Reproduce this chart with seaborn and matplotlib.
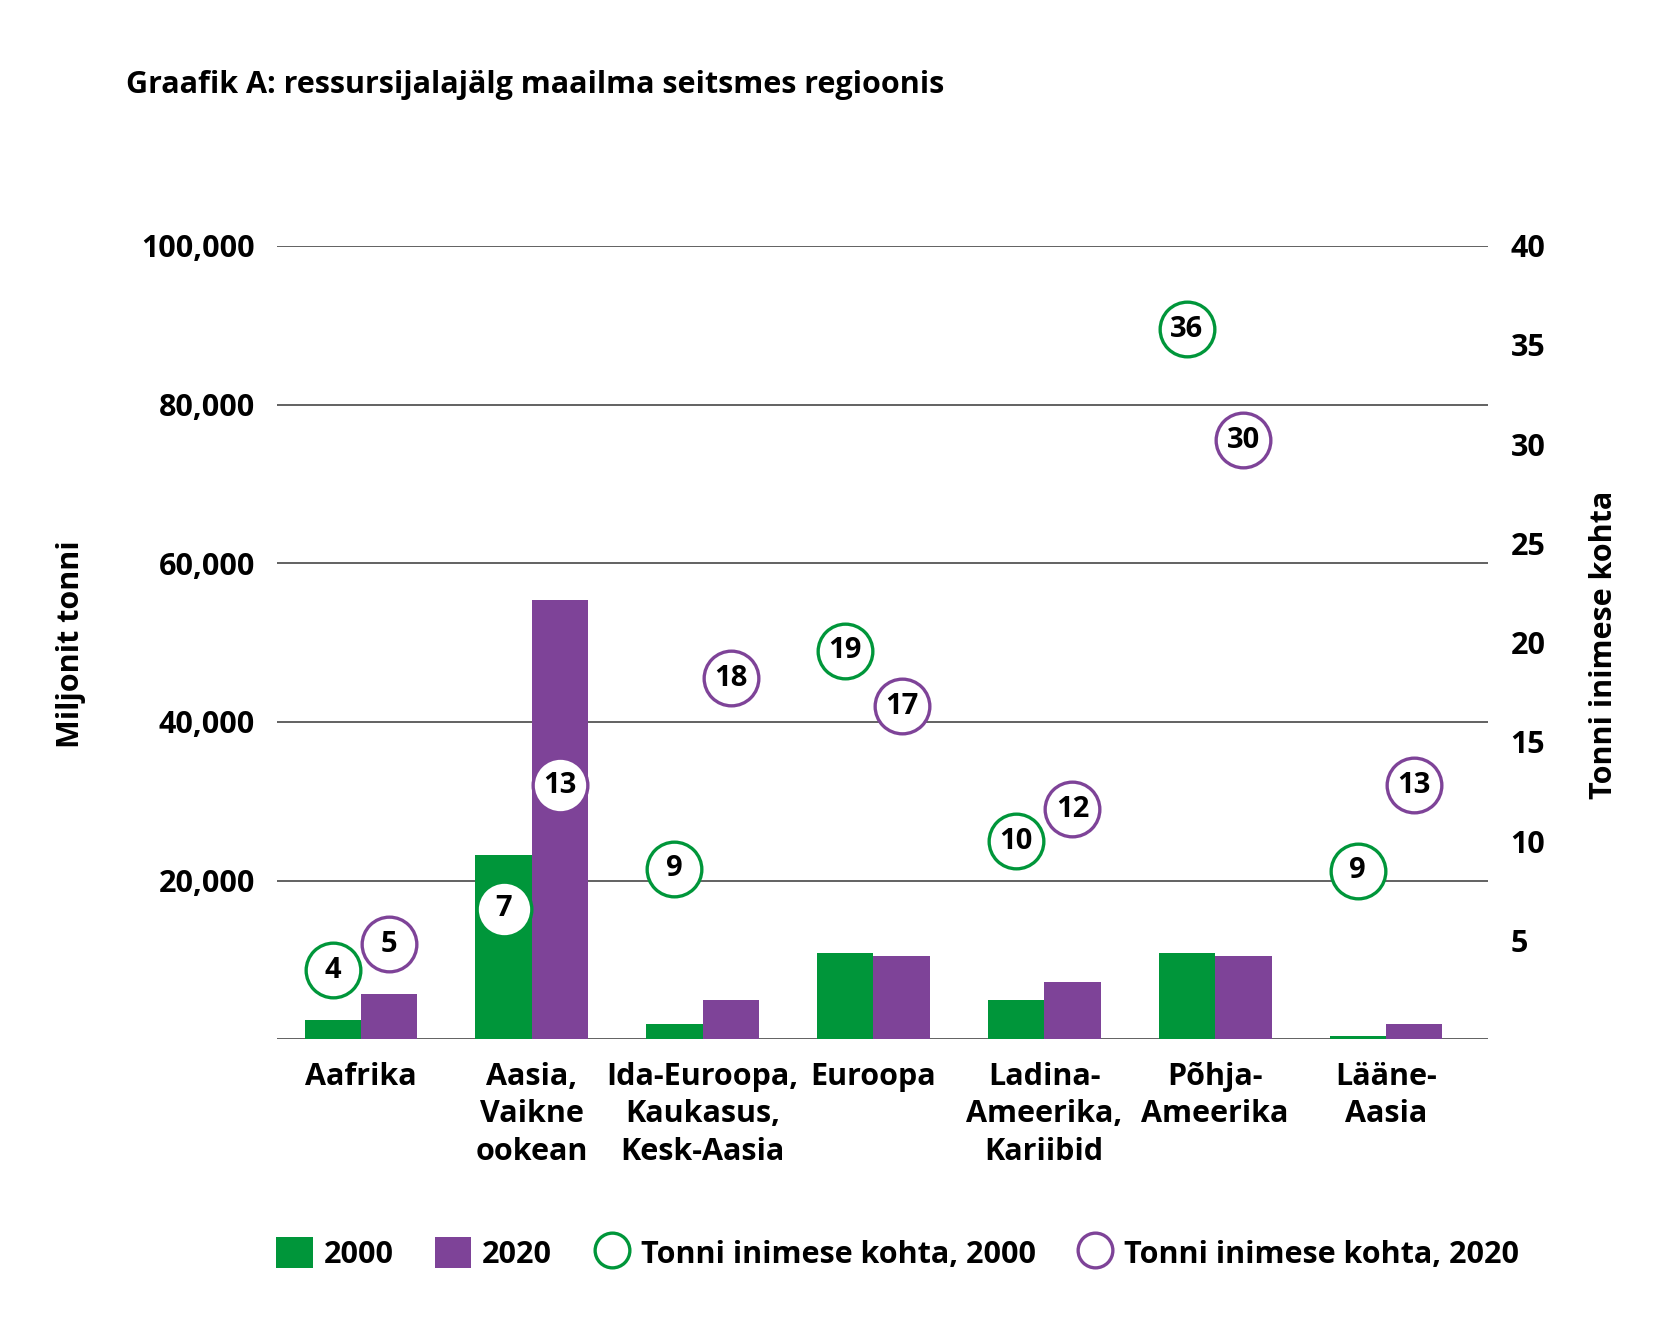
import pandas as pd
import seaborn as sns
import matplotlib.pyplot as plt
from matplotlib.patches import Patch
from matplotlib.lines import Line2D

# Data
regions = ['Aafrika', 'Aasia,\nVaikne\nookean', 'Ida-Euroopa,\nKaukasus,\nKesk-Aasia',
           'Euroopa', 'Ladina-\nAmeerika,\nKariibid', 'Põhja-\nAmeerika', 'Lääne-\nAasia']
years = ['2000', '2020']
footprint_2000 = [2400, 23200, 2000, 10900, 5000, 10900, 400]
footprint_2020 = [5700, 55400, 5000, 10500, 7200, 10500, 2000]
per_capita_2000 = [3.5, 6.6, 8.6, 19.6, 10.0, 35.8, 8.5]
per_capita_2020 = [4.8, 12.8, 18.2, 16.8, 11.6, 30.2, 12.8]
labels_2000 = [4, 7, 9, 19, 10, 36, 9]
labels_2020 = [5, 13, 18, 17, 12, 30, 13]
left_ticks = [0, 20000, 40000, 60000, 80000, 100000]
right_ticks = [5, 10, 15, 20, 25, 30, 35, 40]

green = '#00963A'
purple = '#7E4398'
grid_col = '#555555'
fs = 22

sns.set_style('white')
plt.rcParams['font.family'] = ['Open Sans', 'DejaVu Sans']
plt.rcParams['text.color'] = 'black'
plt.rcParams['xtick.color'] = 'black'
plt.rcParams['ytick.color'] = 'black'

df = pd.DataFrame({
    'region': regions * 2,
    'value': footprint_2000 + footprint_2020,
    'year': [years[0]] * len(regions) + [years[1]] * len(regions),
})

fig = plt.figure(figsize=(16.8, 13.43), dpi=100)
ax = fig.add_axes([0.165, 0.226, 0.721, 0.591])

sns.barplot(data=df, x='region', y='value', hue='year', palette=[green, purple],
            width=0.66, saturation=1, errorbar=None, legend=False, ax=ax,
            edgecolor='none', zorder=2)

ax.set_xlim(-0.49, 6.6)
ax.set_ylim(0, 100000)
ax.set_yticks(left_ticks)
ax.set_yticklabels([''] + [f'{t:,}' for t in left_ticks[1:]])
ax.yaxis.grid(True, color=grid_col, lw=1.3)
ax.set_axisbelow(True)
ax.set_xlabel('')
ax.set_ylabel('')
for s in ax.spines.values():
    s.set_visible(False)
ax.tick_params(axis='y', length=0, pad=16, labelsize=fs, labelcolor='black')
ax.tick_params(axis='x', length=0, pad=16, labelsize=fs, labelcolor='black')
for lab in ax.get_yticklabels() + ax.get_xticklabels():
    lab.set_fontweight('bold')
for lab in ax.get_xticklabels():
    lab.set_linespacing(1.33)
    lab.set_va('top')

# per capita circles on the right axis
ax2 = ax.twinx()
ax2.set_ylim(0, 40)
ax2.set_yticks(right_ticks)
ax2.tick_params(axis='y', length=0, pad=16, labelsize=fs, labelcolor='black')
for lab in ax2.get_yticklabels():
    lab.set_fontweight('bold')
for s in ax2.spines.values():
    s.set_visible(False)

for cont, vals, labs, col in [(ax.containers[0], per_capita_2000, labels_2000, green),
                               (ax.containers[1], per_capita_2020, labels_2020, purple)]:
    xs = [p.get_x() + p.get_width() / 2 for p in cont]
    ax2.scatter(xs, vals, s=1550, facecolor='white', edgecolor=col, linewidth=2.4, zorder=3)
    for x, v, l in zip(xs, vals, labs):
        ax2.text(x, v, str(l), ha='center', va='center', fontsize=21,
                 fontweight='bold', color='black', zorder=4)

fig.text(0.075, 0.937, 'Graafik A: ressursijalajälg maailma seitsmes regioonis',
         fontsize=fs, fontweight='bold', ha='left', va='center')
fig.text(0.042, 0.52, 'Miljonit tonni', rotation=90, fontsize=fs, fontweight='bold',
         ha='center', va='center')
fig.text(0.955, 0.52, 'Tonni inimese kohta', rotation=90, fontsize=fs, fontweight='bold',
         ha='center', va='center')

handles = [
    Patch(facecolor=green, edgecolor='none'),
    Patch(facecolor=purple, edgecolor='none'),
    Line2D([], [], marker='o', ls='none', markersize=25, markerfacecolor='white',
           markeredgecolor=green, markeredgewidth=2.4),
    Line2D([], [], marker='o', ls='none', markersize=25, markerfacecolor='white',
           markeredgecolor=purple, markeredgewidth=2.4),
]
leg_labels = ['2000', '2020', 'Tonni inimese kohta, 2000', 'Tonni inimese kohta, 2020']
fig.legend(handles, leg_labels, loc='center left', bbox_to_anchor=(0.157, 0.067),
           ncol=4, frameon=False, prop={'weight': 'bold', 'size': fs},
           handlelength=1.2, handleheight=1.2, handletextpad=0.35, columnspacing=1.35,
           borderaxespad=0)

fig.savefig('out.png', dpi=100)
